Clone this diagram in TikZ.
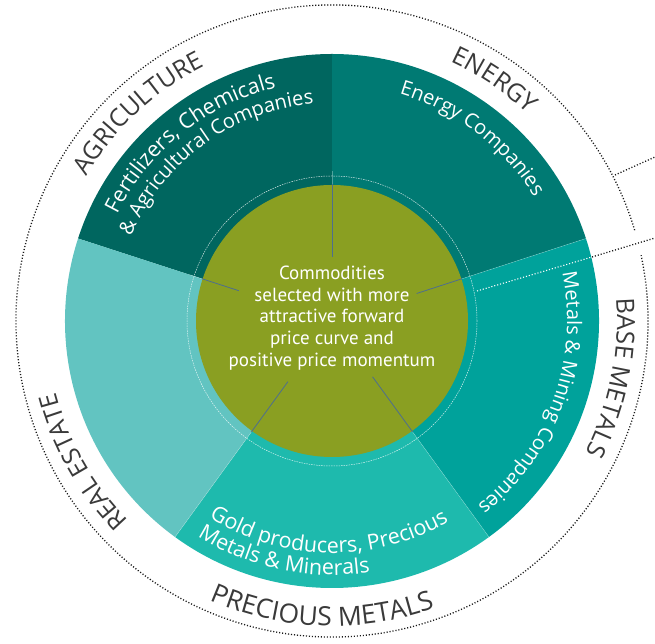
\documentclass[tikz,border=0pt]{standalone}
\usepackage{fontspec}
\setmainfont{Open Sans}
\newfontfamily\coreface{PT Sans}
\usetikzlibrary{calc,decorations.text}

\definecolor{agri}{HTML}{00665F}
\definecolor{energy}{HTML}{007A73}
\definecolor{basem}{HTML}{00A29B}
\definecolor{precm}{HTML}{1EBAAD}
\definecolor{realest}{HTML}{62C4C1}
\definecolor{core}{HTML}{8A9F22}
\definecolor{spokeblue}{HTML}{4E6E8E}
\definecolor{labelgray}{HTML}{3A3A3A}

\newcommand\sectorfont{\fontsize{25}{25}\selectfont\color{labelgray}}
\newcommand\bigsectorfont{\fontsize{26.5}{26.5}\selectfont\color{labelgray}}
\newcommand\firmfont{\fontsize{20}{20}\selectfont\color{white}}
\newcommand\widefirmfont{\fontsize{21.5}{21.5}\selectfont\color{white}}

\begin{document}
\begin{tikzpicture}[x=1pt,y=1pt]
\tikzstyle{every node}=[font=\coreface\fontsize{19}{21.7}\selectfont]
\tikzstyle{spoke}=[draw=spokeblue, line width=0.8pt]
\tikzstyle{seam}=[draw=white, opacity=0.3, line width=0.5pt]
\tikzstyle{dots}=[draw=black!90, line width=1.3pt, dash pattern=on 1.1pt off 1.9pt]
\tikzstyle{ringtext}=[decorate]

\useasboundingbox (0,0) rectangle (655,644);
\coordinate (C) at (332,323);

\foreach \a/\col in {90/agri, 18/energy, -54/basem, -126/precm, 162/realest}
  \fill[\col] (C) -- ++(\a:267) arc[start angle=\a, delta angle=72, radius=267] -- cycle;
\foreach \a in {18,234,306}
  \draw[seam] ($(C)+(\a:136)$) -- ($(C)+(\a:267)$);
\foreach \a in {90,162}
  \draw[seam] ($(C)+(\a:136)$) -- ($(C)+(\a:150)$);

\fill[core] (C) circle (136);
\draw[white, opacity=0.8, line width=0.5pt, dash pattern=on 1.5pt off 1pt] (C) circle (145);

\foreach \a/\r in {90/64, 162/98, 18/89, 234/75, 306/69} {
  \coordinate (in\a) at ($(C)+(\a:\r)$);
  \coordinate (out\a) at ($(C)+(\a:137)$);
  \draw[spoke] (in\a) -- (out\a);
}

\node[text=white, align=center] (thesis) at (332,326)
  {Commodities\\selected with more\\attractive forward\\price curve and\\positive price momentum};

\draw[dots] (C) ++(16.7:316) arc[start angle=16.7, end angle=372, radius=316];
\coordinate (ring1) at (615,469);
\coordinate (edge1) at (655,487);
\coordinate (tap) at (477,353);
\coordinate (rim) at (592,387);
\coordinate (edge2) at (655,406);
\draw[dots] (ring1) -- (edge1);
\draw[dots, draw=white, line width=1.1pt] (tap) -- (rim);
\draw[dots] (rim) -- (edge2);

\path[ringtext, decoration={text along path, text align=center, text={|\sectorfont|AGRICULTURE}}]
  (C) ++(193:285) arc[start angle=193, end angle=73, radius=285];
\path[ringtext, decoration={text along path, text align=center, text={|\sectorfont|ENERGY}}]
  (C) ++(116:285) arc[start angle=116, end angle=-4, radius=285];
\path[ringtext, decoration={text along path, text align=center, text={|\sectorfont|BASE METALS}}]
  (C) ++(48.5:285) arc[start angle=48.5, end angle=-71.5, radius=285];
\path[ringtext, decoration={text along path, text align=center, text={|\sectorfont|REAL ESTATE}}]
  (C) ++(269.5:285) arc[start angle=269.5, end angle=149.5, radius=285];
\path[ringtext, decoration={text along path, text align=center, text={|\bigsectorfont|PRECIOUS METALS}}]
  (C) ++(-152:305) arc[start angle=-152, end angle=-32, radius=305];

\path[ringtext, decoration={text along path, text align=center, text={|\widefirmfont|Fertilizers, Chemicals}}]
  (C) ++(188.5:240) arc[start angle=188.5, end angle=68.5, radius=240];
\path[ringtext, decoration={text along path, text align=center, text={|\firmfont|{\&} Agricultural Companies}}]
  (C) ++(186:218) arc[start angle=186, end angle=66, radius=218];
\path[ringtext, decoration={text along path, text align=center, text={|\firmfont|Energy Companies}}]
  (C) ++(112.5:237) arc[start angle=112.5, end angle=-7.5, radius=237];
\path[ringtext, decoration={text along path, text align=center, text={|\firmfont|Metals {\&} Mining Companies}}]
  (C) ++(40:235) arc[start angle=40, end angle=-80, radius=235];
\path[ringtext, decoration={text along path, text align=left, text={|\widefirmfont|Gold producers, Precious}}]
  (C) ++(-122:232) arc[start angle=-122, end angle=-20, radius=232];
\path[ringtext, decoration={text along path, text align=left, text={|\widefirmfont|Metals {\&} Minerals}}]
  (C) ++(-122:254) arc[start angle=-122, end angle=-20, radius=254];
\end{tikzpicture}
\end{document}
